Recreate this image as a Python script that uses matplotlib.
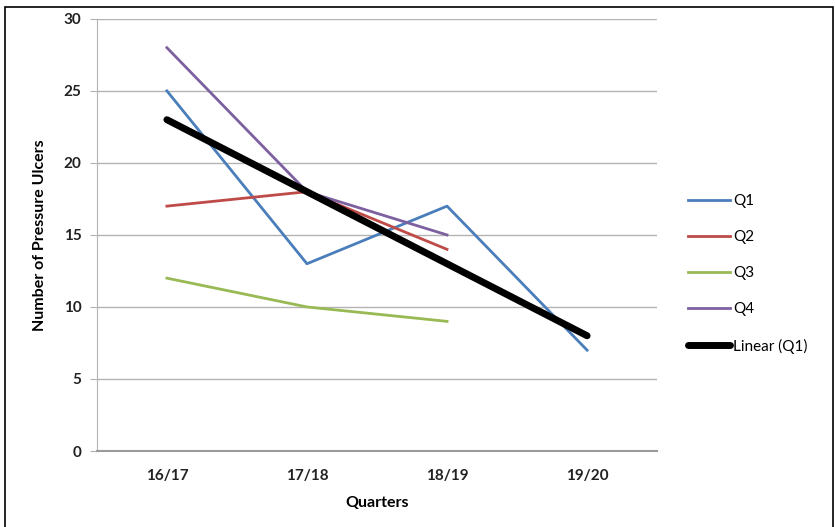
import numpy as np
import matplotlib.pyplot as plt
from matplotlib.patches import Rectangle

# data
quarters = ["16/17", "17/18", "18/19", "19/20"]
q1 = [25, 13, 17, 7]
q2 = [17, 18, 14]
q3 = [12, 10, 9]
q4 = [28, 18, 15]

# styling
c_q1 = "#4a7ebb"
c_q2 = "#be4b48"
c_q3 = "#98b954"
c_q4 = "#7d60a0"
grid_c = "#b3b3b3"
plt.rcParams["font.family"] = ["Lato", "DejaVu Sans"]

fig = plt.figure(figsize=(8.35, 5.27), dpi=100)
ax = fig.add_axes([0.116, 0.1442, 0.671, 0.82])

x = np.arange(len(quarters))
ax.plot(x, q1, color=c_q1, lw=2, label="Q1")
ax.plot(x[:len(q2)], q2, color=c_q2, lw=2, label="Q2")
ax.plot(x[:len(q3)], q3, color=c_q3, lw=2, label="Q3")
ax.plot(x[:len(q4)], q4, color=c_q4, lw=2, label="Q4")

# linear trend of Q1
slope, icpt = np.polyfit(x + 1, q1, 1)
ax.plot(x, slope * (x + 1) + icpt, color="black", lw=5, label="Linear (Q1)",
        solid_capstyle="round")

ax.set_xlim(-0.5, 3.5)
ax.set_ylim(0, 30)
ax.set_yticks(range(0, 31, 5))
ax.set_xticks(x)
ax.set_xticklabels(quarters)
ax.grid(axis="y", color=grid_c, lw=1)
ax.set_axisbelow(True)
for s in ["top", "right"]:
    ax.spines[s].set_visible(False)
ax.spines["left"].set_color(grid_c)
ax.spines["bottom"].set_color("#9a9a9a")
ax.spines["bottom"].set_linewidth(1.5)
ax.tick_params(axis="y", length=5, color=grid_c, labelsize=11, pad=6)
ax.tick_params(axis="x", length=0, labelsize=11, pad=13)
for lbl in ax.get_xticklabels() + ax.get_yticklabels():
    lbl.set_fontweight("bold")
    lbl.set_color("#222222")

ax.set_xlabel("Quarters", fontsize=11.5, fontweight="bold", labelpad=9)
ax.set_ylabel("Number of Pressure Ulcers", fontsize=11.5, fontweight="bold", labelpad=12)

ax.legend(loc="center left", bbox_to_anchor=(1.03, 0.41), frameon=False,
          fontsize=11, labelspacing=1.45, handlelength=2.8, handletextpad=0.15)

# outer frame
fig.patches.append(Rectangle((0.006, -0.01), 0.992, 0.997, transform=fig.transFigure,
                             fill=False, edgecolor="black", lw=1.2))

plt.savefig("out.png")
